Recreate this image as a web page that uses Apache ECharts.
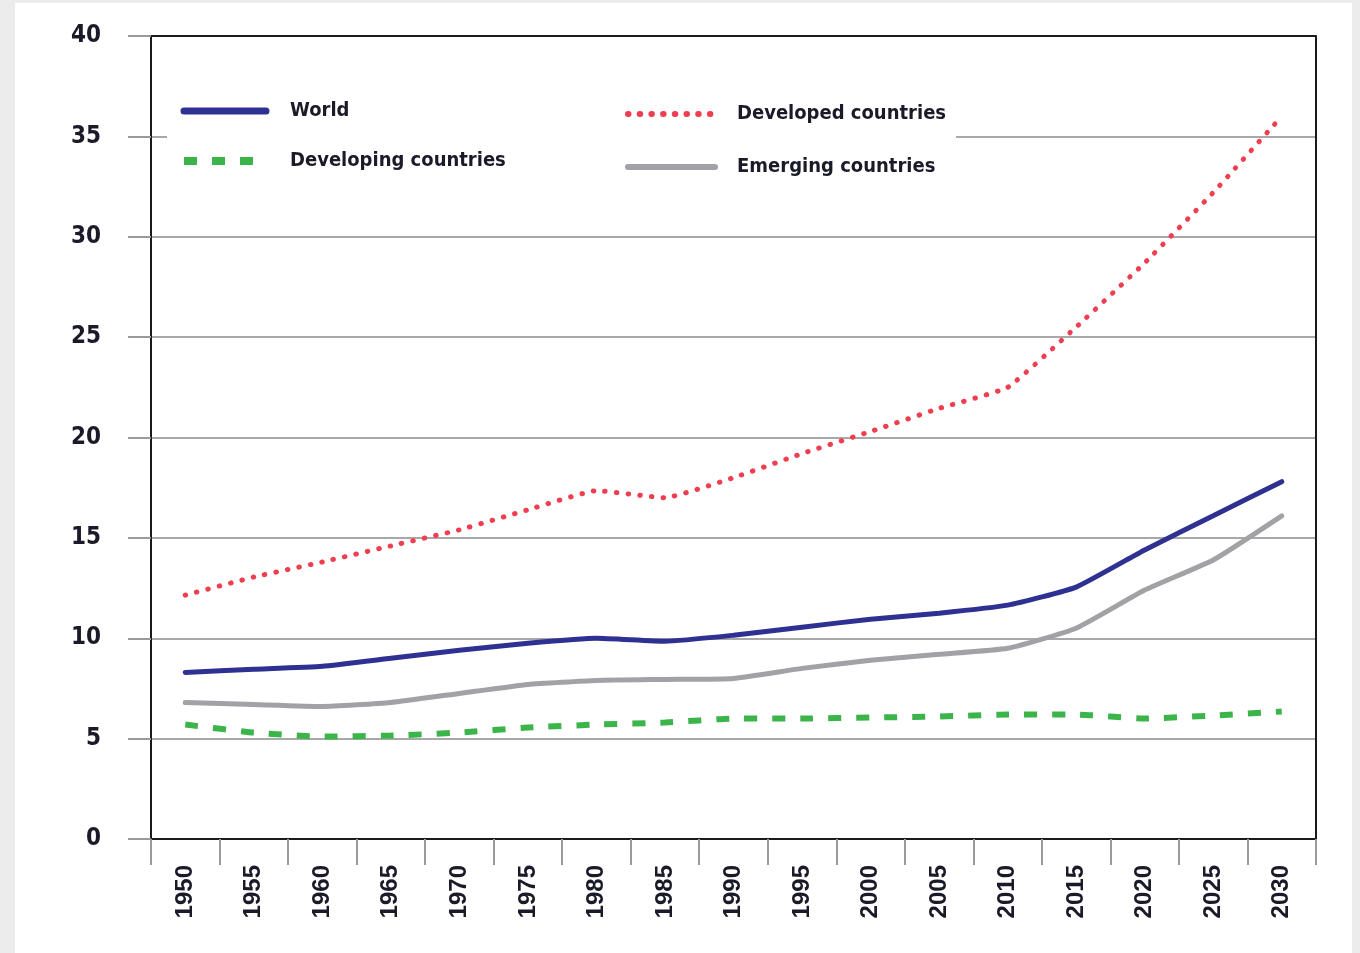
<!DOCTYPE html>
<html>
<head>
<meta charset="utf-8">
<script src="https://cdn.jsdelivr.net/npm/echarts@6/dist/echarts.min.js"></script>
<style>
  html, body { margin: 0; padding: 0; background: #ececec; width: 1360px; height: 953px; overflow: hidden; }
  #panel { position: absolute; left: 15px; top: 3px; width: 1337px; height: 950px; background: #ffffff; }
  #chart { position: absolute; left: 0; top: 0; width: 1360px; height: 953px; }
</style>
</head>
<body>
<div id="panel"></div>
<div id="chart"></div>
<script>
const years = ['1950','1955','1960','1965','1970','1975','1980','1985','1990','1995','2000','2005','2010','2015','2020','2025','2030'];
const world      = [8.3, 8.45, 8.6, 9.0, 9.4, 9.75, 10.0, 9.85, 10.15, 10.55, 10.95, 11.25, 11.65, 12.55, 14.4, 16.1, 17.8];
const developing = [5.7, 5.3, 5.1, 5.15, 5.3, 5.55, 5.7, 5.8, 6.0, 6.0, 6.05, 6.1, 6.2, 6.2, 6.0, 6.15, 6.35];
const developed  = [12.15, 13.05, 13.8, 14.6, 15.4, 16.4, 17.35, 17.0, 18.0, 19.2, 20.3, 21.45, 22.5, 25.5, 28.7, 32.2, 36.0];
const emerging   = [6.8, 6.7, 6.6, 6.8, 7.25, 7.7, 7.9, 7.95, 8.0, 8.5, 8.9, 9.2, 9.5, 10.5, 12.4, 13.9, 16.1];

const textColor = '#1a1a28';
const narrow = '"DejaVu Sans Condensed", "Liberation Sans Narrow", "Liberation Sans", sans-serif';

const chart = echarts.init(document.getElementById('chart'), null, { renderer: 'canvas' });
chart.setOption({
  backgroundColor: 'transparent',
  animation: false,
  grid: { left: 151, right: 44, top: 36, bottom: 114, containLabel: false },
  legend: [
    {
      data: [
        { name: 'World', lineStyle: { width: 7 } },
        { name: 'Developing countries', lineStyle: { width: 8 } }
      ],
      orient: 'vertical',
      left: 167, top: 91,
      padding: [10, 105, 10, 13],
      backgroundColor: '#ffffff',
      itemWidth: 82, itemHeight: 14, itemGap: 30,
      itemStyle: { opacity: 0 },
      lineStyle: { width: 'inherit' },
      textStyle: { fontFamily: narrow, fontWeight: 'bold', fontSize: 20, color: textColor, padding: [0, 0, 0, 19] }
    },
    {
      data: [
        { name: 'Developed countries', lineStyle: { width: 6 } },
        { name: 'Emerging countries', lineStyle: { width: 6 } }
      ],
      orient: 'vertical',
      left: 610, top: 94,
      padding: [10, 10, 10, 15],
      backgroundColor: '#ffffff',
      itemWidth: 87, itemHeight: 14, itemGap: 33,
      itemStyle: { opacity: 0 },
      lineStyle: { width: 'inherit' },
      textStyle: { fontFamily: narrow, fontWeight: 'bold', fontSize: 20, color: textColor, padding: [0, 0, 0, 17] }
    }
  ],
  xAxis: {
    type: 'category',
    data: years,
    boundaryGap: true,
    axisLine: { show: true, lineStyle: { color: '#1a1a1a', width: 2 } },
    axisTick: { show: true, interval: 0, length: 26, lineStyle: { color: '#9a9a9a', width: 2 } },
    axisLabel: {
      interval: 0, rotate: 90, margin: 26,
      fontFamily: '"Liberation Sans", Arial, sans-serif', fontWeight: 'bold', fontSize: 24, color: textColor
    },
    splitLine: { show: false }
  },
  yAxis: [
    {
      type: 'value', min: 0, max: 40, interval: 5,
      axisLine: { show: true, lineStyle: { color: '#1a1a1a', width: 2 } },
      axisTick: { show: true, length: 23, lineStyle: { color: '#9a9a9a', width: 2 } },
      axisLabel: { margin: 50, fontFamily: narrow, fontWeight: 'bold', fontSize: 24, color: textColor },
      splitLine: {
        show: true,
        lineStyle: { width: 2, color: ['#1a1a1a', '#a8a8a8', '#a8a8a8', '#a8a8a8', '#a8a8a8', '#a8a8a8', '#a8a8a8', '#a8a8a8', '#1a1a1a'] }
      }
    },
    {
      type: 'value', min: 0, max: 40, interval: 5, position: 'right',
      axisLine: { show: true, lineStyle: { color: '#1a1a1a', width: 2 } },
      axisTick: { show: false }, axisLabel: { show: false }, splitLine: { show: false }
    }
  ],
  series: [
    {
      name: 'Developing countries', type: 'line', data: developing, symbol: 'none', smooth: 0.15,
      lineStyle: { color: '#3bb54a', width: 6, type: [13, 15] }, itemStyle: { color: '#3bb54a' }, z: 3
    },
    {
      name: 'Emerging countries', type: 'line', data: emerging, symbol: 'none', smooth: 0.15,
      lineStyle: { color: '#a2a2a6', width: 5, cap: 'round' }, itemStyle: { color: '#a2a2a6' }, z: 3
    },
    {
      name: 'World', type: 'line', data: world, symbol: 'none', smooth: 0.15,
      lineStyle: { color: '#2e3192', width: 5, cap: 'round' }, itemStyle: { color: '#2e3192' }, z: 4
    },
    {
      name: 'Developed countries', type: 'line', data: developed, symbol: 'none', smooth: 0.12,
      lineStyle: { color: '#ef3e4f', width: 5, type: [0.5, 11.2], cap: 'round' }, itemStyle: { color: '#ef3e4f' }, z: 5
    }
  ]
});
</script>
</body>
</html>
